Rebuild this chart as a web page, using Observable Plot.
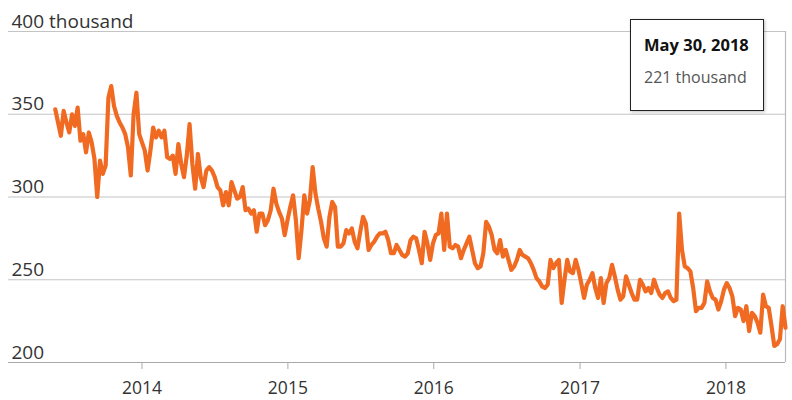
<!DOCTYPE html>
<html>
<head>
<meta charset="utf-8">
<script src="https://cdn.jsdelivr.net/npm/d3@7"></script>
<script src="https://cdn.jsdelivr.net/npm/@observablehq/plot@0.6"></script>
<style>
  html, body { margin: 0; padding: 0; background: #fff; }
  #wrap { position: relative; width: 792px; height: 400px; font-family: "Open Sans", sans-serif; }
  #tip { position: absolute; left: 630px; top: 19px; width: 134px; height: 92px; box-sizing: border-box;
         border: 1px solid #222; background: #fff; padding: 15px 0 0 13px; box-shadow: 1px 1px 3px rgba(0,0,0,0.25); }
  #tip .d { font-weight: bold; font-size: 16.5px; line-height: 20px; color: #111; white-space: nowrap; }
  #tip .v { font-size: 16px; line-height: 20px; color: #555; margin-top: 12px; white-space: nowrap; }
</style>
</head>
<body>
<div id="wrap"></div>
<script>
// Weekly claims, thousands (last week ends May 30, 2018)
const endDate = "2018-05-30";
const claims = [
  353,345,337,352,345,339,350,343,354,334,
  338,327,339,333,323,300,322,314,319,360,
  367,355,349,345,342,338,330,313,350,363,
  338,333,328,316,328,342,336,340,336,340,
  324,323,325,314,332,320,312,325,344,320,
  305,326,312,306,316,318,316,312,306,304,
  295,303,295,309,304,299,300,306,292,293,
  290,292,279,290,290,283,286,292,305,296,
  291,287,277,286,294,301,286,263,280,301,
  290,298,318,302,293,285,275,270,288,297,
  294,270,270,272,280,278,281,273,269,279,
  288,284,268,271,273,276,278,278,279,274,
  266,266,271,268,265,264,266,274,276,275,
  268,260,279,272,262,272,277,278,290,268,
  290,270,269,271,270,263,268,272,276,268,
  260,257,258,266,285,282,277,268,266,274,
  264,268,262,256,258,262,268,265,264,263,
  260,256,251,249,246,245,247,262,257,260,
  262,236,250,262,255,254,262,256,248,239,
  247,250,254,245,239,251,236,248,251,259,
  252,244,238,240,252,247,242,238,238,250,
  247,243,245,242,250,245,241,239,242,243,
  239,237,238,290,268,258,257,255,245,231,
  233,233,236,249,243,239,238,232,237,244,
  248,245,240,228,233,232,225,234,219,230,
  228,224,218,241,234,233,222,210,211,214,
  234,221
];
const yearTicks = ["2014", "2015", "2016", "2017", "2018"];
const yTicks = [200, 250, 300, 350, 400];
const yTickLabels = ["200", "250", "300", "350", "400 thousand"];
const xDomain = ["2013-02-01", "2018-05-30"];

const end = new Date(endDate + "T00:00:00Z");
const n = claims.length;
const data = claims.map((v, i) => ({date: d3.utcWeek.offset(end, i - (n - 1)), value: v}));
const last = data[n - 1];
const x0 = new Date(xDomain[0] + "T00:00:00Z");

const chart = Plot.plot({
  width: 792,
  height: 400,
  marginLeft: 8,
  marginRight: 7,
  marginTop: 31,
  marginBottom: 38,
  style: {fontFamily: "'Open Sans', sans-serif", fontSize: "17px", color: "#333", background: "#fff"},
  x: {type: "utc", domain: xDomain.map(d => new Date(d + "T00:00:00Z"))},
  y: {domain: [200, 400], axis: null},
  marks: [
    Plot.ruleY(yTicks.filter(d => d !== 200), {stroke: "#c4c4c4", strokeWidth: 1.2}),
    Plot.ruleY([200], {stroke: "#a8a8a8", strokeWidth: 1.2}),
    Plot.ruleX([last], {x: "date", y1: 200, y2: 400, stroke: "#bbb", strokeWidth: 1.2}),
    Plot.axisX({
      ticks: yearTicks.map(y => new Date(y + "-01-01T00:00:00Z")),
      tickFormat: d3.utcFormat("%Y"),
      tickSize: 7, tickPadding: 12, stroke: "#aaa", fill: "#333", fontSize: 17.5, label: null
    }),
    Plot.text(yTicks, {
      x: () => x0, y: d => d, text: (d, i) => yTickLabels[i],
      textAnchor: "start", lineAnchor: "bottom", dx: 3, dy: -4, fill: "#333", fontSize: 19
    }),
    Plot.line(data, {x: "date", y: "value", stroke: "#f06a22", strokeWidth: 4.2, strokeLinejoin: "round", strokeLinecap: "round"})
  ]
});

const wrap = document.getElementById("wrap");
wrap.appendChild(chart);
const tip = document.createElement("div");
tip.id = "tip";
tip.innerHTML = `<div class="d">${d3.utcFormat("%B %-d, %Y")(last.date)}</div><div class="v">${last.value} thousand</div>`;
wrap.appendChild(tip);
</script>
</body>
</html>
